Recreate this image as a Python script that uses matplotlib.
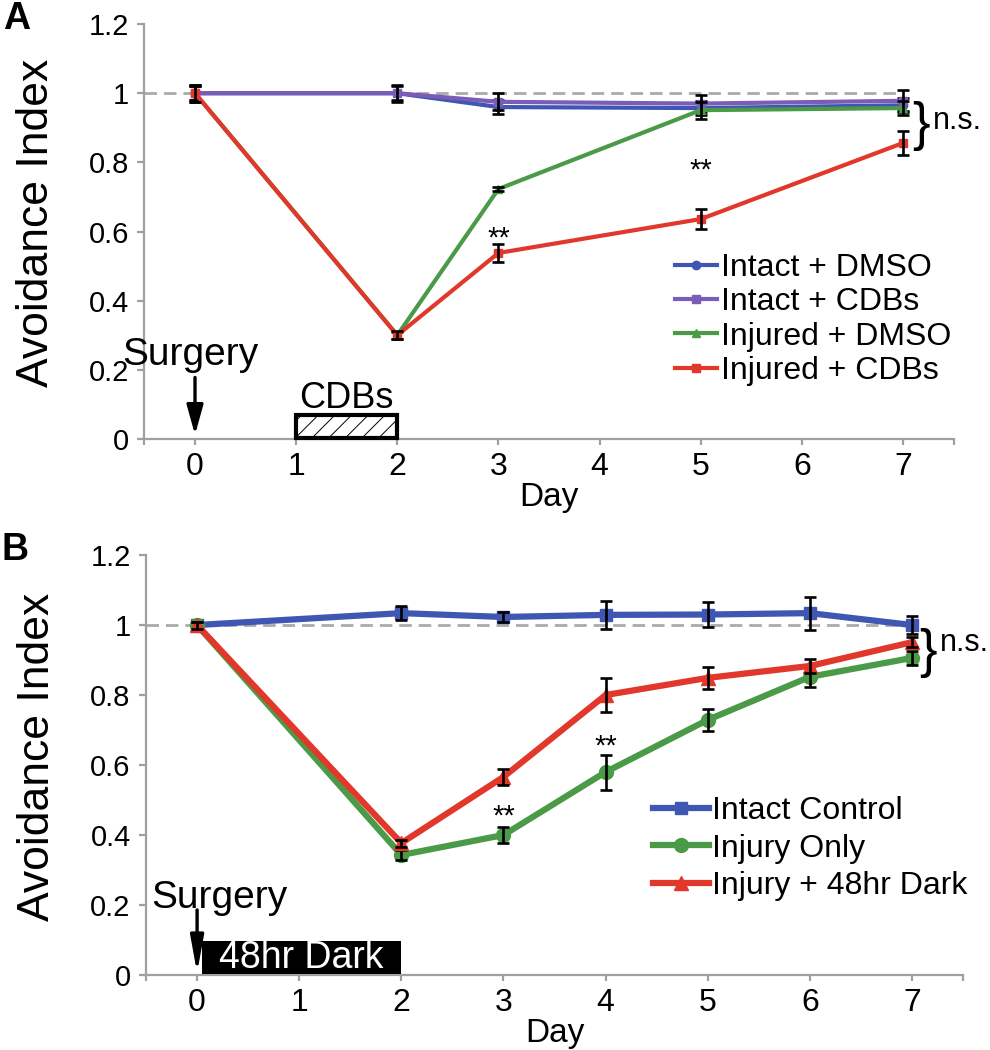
import numpy as np
import matplotlib
matplotlib.use('Agg')
import matplotlib.pyplot as plt
import matplotlib.font_manager as fm
from matplotlib.patches import Rectangle

# ---- data, panel A ----
days_a = [0, 2, 3, 5, 7]
intact_dmso = [1.0, 1.0, 0.96, 0.957, 0.965]
intact_dmso_err = [0.02, 0.02, 0.02, 0.02, 0.02]
intact_cdbs = [1.0, 1.0, 0.975, 0.97, 0.978]
intact_cdbs_err = [0.025, 0.025, 0.025, 0.025, 0.03]
injured_dmso = [1.0, 0.30, 0.723, 0.951, 0.957]
injured_dmso_err = [0.02, 0.01, 0.005, 0.025, 0.02]
injured_cdbs = [1.0, 0.30, 0.538, 0.636, 0.856]
injured_cdbs_err = [0.025, 0.012, 0.027, 0.03, 0.035]
labels_a = ['Intact + DMSO', 'Intact + CDBs', 'Injured + DMSO', 'Injured + CDBs']

# ---- data, panel B ----
days_b = [0, 2, 3, 4, 5, 6, 7]
intact_ctrl = [1.0, 1.034, 1.023, 1.029, 1.03, 1.034, 1.0]
intact_ctrl_err = [0.01, 0.02, 0.015, 0.04, 0.035, 0.047, 0.025]
injury_only = [1.0, 0.343, 0.40, 0.58, 0.729, 0.852, 0.906]
injury_only_err = [0.01, 0.015, 0.022, 0.05, 0.032, 0.03, 0.02]
injury_dark = [1.0, 0.377, 0.566, 0.80, 0.849, 0.883, 0.951]
injury_dark_err = [0.01, 0.01, 0.024, 0.048, 0.031, 0.02, 0.015]
labels_b = ['Intact Control', 'Injury Only', 'Injury + 48hr Dark']

day_ticks = [0, 1, 2, 3, 4, 5, 6, 7]
y_ticks = [0, 0.2, 0.4, 0.6, 0.8, 1.0, 1.2]
y_ticklabels = ['0', '0.2', '0.4', '0.6', '0.8', '1', '1.2']

BLUE = '#3f57b3'
PURPLE = '#7b5cb6'
GREEN = '#4a9a47'
RED = '#e1382b'
AXGRAY = '#a0a0a0'

names = set(f.name for f in fm.fontManager.ttflist)
SANS = 'Liberation Sans' if 'Liberation Sans' in names else 'DejaVu Sans'
plt.rcParams['font.family'] = SANS
plt.rcParams['hatch.linewidth'] = 0.7
plt.rcParams['hatch.color'] = '#555555'


def style_axis(ax):
    ax.set_xlim(-0.5, 7.5)
    ax.set_ylim(0, 1.2)
    for s in ['top', 'right']:
        ax.spines[s].set_visible(False)
    for s in ['left', 'bottom']:
        ax.spines[s].set_color(AXGRAY)
        ax.spines[s].set_linewidth(1.6)
    ax.set_yticks(y_ticks)
    ax.set_yticklabels(y_ticklabels, fontsize=21)
    ax.set_xticks(day_ticks)
    ax.set_xticklabels([str(d) for d in day_ticks], fontsize=23)
    ax.set_xticks([-0.5, 7.5], minor=True)
    ax.tick_params(axis='y', direction='out', length=5, width=1.6, color=AXGRAY, pad=6)
    ax.tick_params(axis='x', which='both', direction='out', length=4, width=1.6, color=AXGRAY, pad=5)
    ax.set_xlabel('Day', fontsize=24, labelpad=0)
    ax.set_ylabel('Avoidance Index', fontsize=32)
    ax.yaxis.set_label_coords(-0.108, 0.52)
    ax.plot([-0.5, 7], [1, 1], color='#aaaaaa', lw=2, dashes=(4.5, 2.5), zorder=1)


def series(ax, x, y, err, color, marker, ms, lw, z, label):
    line, = ax.plot(x, y, color=color, lw=lw, marker=marker, ms=ms, mec=color,
                    zorder=z, label=label)
    ax.errorbar(x, y, yerr=err, fmt='none', ecolor='black', elinewidth=1.9,
                capsize=4, capthick=1.9, zorder=z + 0.5)
    return line


fig = plt.figure(figsize=(9.9, 10.5), dpi=100)
axA = fig.add_axes([0.1459, 0.5819, 0.8173, 0.3952])
axB = fig.add_axes([0.1475, 0.0714, 0.8253, 0.4000])

# ---- panel A ----
style_axis(axA)
h = []
h.append(series(axA, days_a, intact_dmso, intact_dmso_err, BLUE, 'o', 6, 3, 3, labels_a[0]))
h.append(series(axA, days_a, intact_cdbs, intact_cdbs_err, PURPLE, 's', 6, 3, 4, labels_a[1]))
h.append(series(axA, days_a, injured_dmso, injured_dmso_err, GREEN, '^', 6, 3, 5, labels_a[2]))
h.append(series(axA, days_a, injured_cdbs, injured_cdbs_err, RED, 's', 6, 3, 6, labels_a[3]))
axA.legend(handles=h, loc='center left', bbox_to_anchor=(0.682, 0.6957),
           bbox_transform=fig.transFigure, frameon=False, borderpad=0, borderaxespad=0,
           handlelength=1.3, handletextpad=0.15, labelspacing=0.13,
           prop={'size': 23})

axA.text(3, 0.58, '**', fontsize=21, ha='center', va='center')
axA.text(5, 0.775, '**', fontsize=21, ha='center', va='center')
axA.text(7.18, 0.905, '}', fontsize=38, ha='center', va='center', clip_on=False)
axA.text(7.3, 0.92, 'n.s.', fontsize=22, ha='left', va='center', clip_on=False)

axA.text(-0.05, 0.243, 'Surgery', fontsize=28, ha='center', va='center')
axA.annotate('', xy=(0, 0.012), xytext=(0, 0.178),
             arrowprops=dict(arrowstyle='-|>,head_length=0.9,head_width=0.25',
                             color='black', lw=2.4, mutation_scale=20, shrinkA=0, shrinkB=0))
axA.add_patch(Rectangle((1, 0.003), 1, 0.067, facecolor='white', edgecolor='black',
                        lw=3, hatch='//', zorder=7, clip_on=False))
axA.text(1.5, 0.118, 'CDBs', fontsize=26, ha='center', va='center')

# ---- panel B ----
style_axis(axB)
h = []
h.append(series(axB, days_b, intact_ctrl, intact_ctrl_err, BLUE, 's', 9, 4.5, 3, labels_b[0]))
h.append(series(axB, days_b, injury_only, injury_only_err, GREEN, 'o', 10, 4.5, 4, labels_b[1]))
h.append(series(axB, days_b, injury_dark, injury_dark_err, RED, '^', 10, 4.5, 5, labels_b[2]))
axB.legend(handles=h, loc='center left', bbox_to_anchor=(0.66, 0.1919),
           bbox_transform=fig.transFigure, frameon=False, borderpad=0, borderaxespad=0,
           handlelength=1.75, handletextpad=0.1, labelspacing=0.24,
           prop={'size': 23})

axB.text(3, 0.452, '**', fontsize=21, ha='center', va='center')
axB.text(4, 0.652, '**', fontsize=21, ha='center', va='center')
axB.text(7.16, 0.92, '}', fontsize=38, ha='center', va='center', clip_on=False)
axB.text(7.27, 0.95, 'n.s.', fontsize=22, ha='left', va='center', clip_on=False)

axB.text(0.215, 0.22, 'Surgery', fontsize=28, ha='center', va='center')
axB.annotate('', xy=(0, 0.006), xytext=(0, 0.186),
             arrowprops=dict(arrowstyle='-|>,head_length=1.1,head_width=0.2',
                             color='black', lw=2.4, mutation_scale=20, shrinkA=0, shrinkB=0))
axB.add_patch(Rectangle((0.05, 0.004), 1.95, 0.093, facecolor='black', edgecolor='none',
                        zorder=7, clip_on=False))
axB.text(1.02, 0.05, '48hr Dark', fontsize=27, color='white', ha='center', va='center', zorder=8)

fig.text(0.003, 0.982, 'A', fontsize=27, fontweight='bold', ha='left', va='center')
fig.text(0.002, 0.476, 'B', fontsize=27, fontweight='bold', ha='left', va='center')

fig.savefig('out.png', dpi=100)
